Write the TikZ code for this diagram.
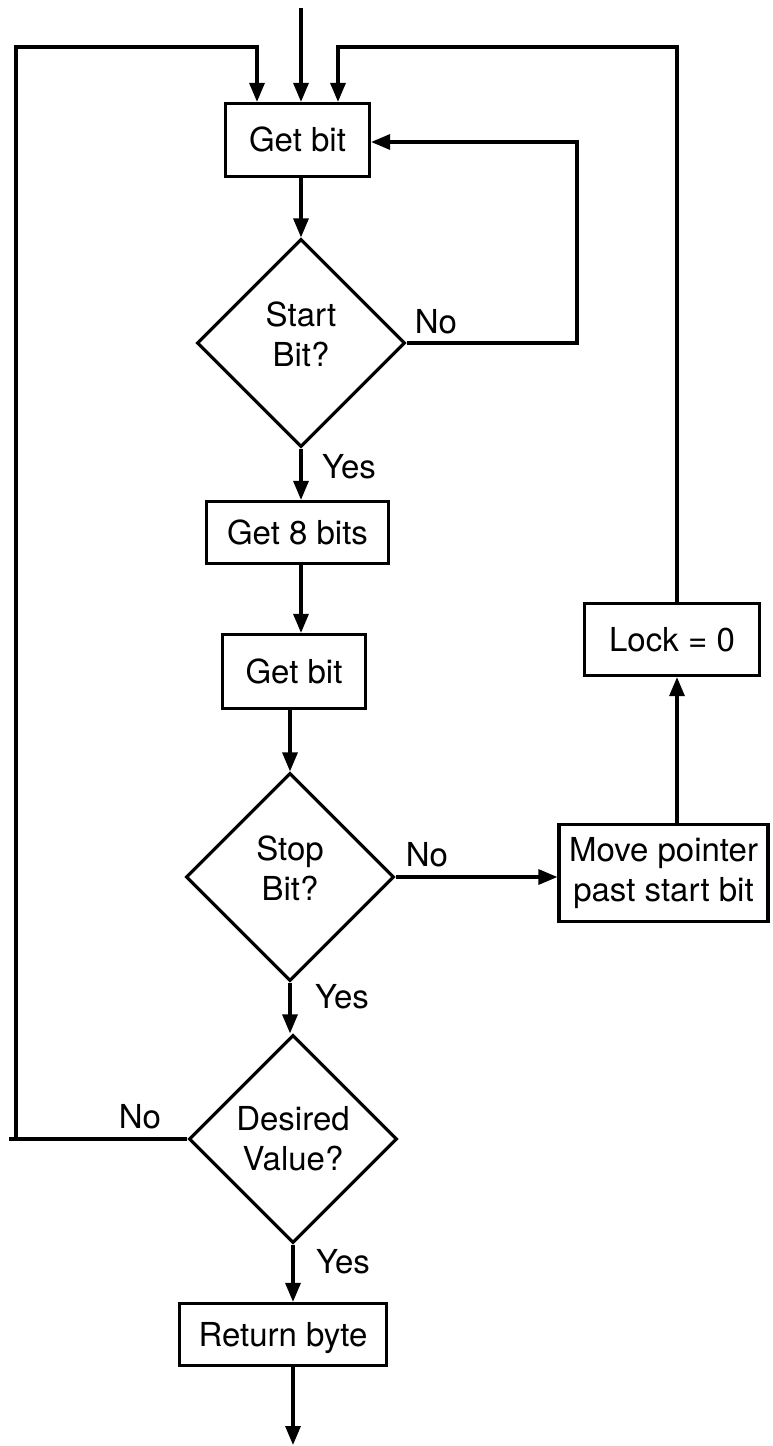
\documentclass[tikz,border=0pt]{standalone}
\usepackage{fontspec}
\setmainfont{TeX Gyre Heros}
\usetikzlibrary{shapes.geometric,arrows.meta}
\newcommand{\lowpad}{\rule[-18pt]{0pt}{18pt}}
\begin{document}
\begin{tikzpicture}[x=1pt,y=-1pt,
  every node/.style={font=\fontsize{33}{40}\selectfont, inner sep=0pt},
  proc/.style={draw, line width=3.2pt, rectangle, text height=23.7pt, text depth=0pt},
  procml/.style={draw, line width=3.2pt, rectangle, align=center},
  decision/.style={draw, line width=3.2pt, diamond, minimum width=208pt,
                   minimum height=208pt, align=center},
  flow/.style={line width=3.2pt},
  arr/.style={flow, -{Triangle[length=19pt,width=15pt]}}]
\useasboundingbox (0,0) rectangle (772,1446);

% process boxes
\node[proc, minimum width=144pt, minimum height=73pt] (get1) at (297.5,140) {Get bit};
\node[proc, minimum width=182pt, minimum height=62pt] (g8) at (297.5,532.5) {Get 8 bits};
\node[proc, minimum width=143pt, minimum height=74pt] (get2) at (294,671.5) {Get bit};
\node[proc, minimum width=207pt, minimum height=62pt] (ret) at (283,1334.5) {Return byte};
\node[proc, minimum width=175pt, minimum height=72pt] (lock) at (672,639.5) {Lock = 0};
\node[procml, minimum width=209pt, minimum height=97pt] (move) at (663.5,873) {Move pointer\\past start bit\rule[-8pt]{0pt}{8pt}};

% decisions
\node[decision] (d1) at (301,343) {Start\\Bit?\lowpad};
\node[decision] (d2) at (290,877) {Stop\\Bit?\lowpad};
\node[decision] (d3) at (293,1139) {Desired\\Value?};

% branch labels
\node (no1) at (436,322) {No};
\node (yes1) at (349,467) {Yes};
\node (no2) at (427,855) {No};
\node (yes2) at (342,997) {Yes};
\node (no3) at (140,1117) {No};
\node (yes3) at (343,1262) {Yes};

% loop corners and free ends
\coordinate (entry) at (301,8);
\coordinate (ltop) at (16,47);
\coordinate (lbot) at (16,1139);
\coordinate (lstub) at (9,1139);
\coordinate (rtop) at (677,47);
\coordinate (rloop) at (577,142);
\coordinate (exit) at (293,1445);

% connectors
\draw[arr] (entry) -- (entry |- get1.north);
\draw[flow] (d3.west) -- (lstub);
\draw[arr] (lbot) -- (ltop) -| ([xshift=-40.5pt]get1.north);
\draw[arr] (lock.north -| rtop) -- (rtop) -| ([xshift=40.5pt]get1.north);
\draw[arr] (d1.north |- get1.south) -- (d1.north);
\draw[arr] (d1.east) -| (rloop) -- (get1.east |- rloop);
\draw[arr] (d1.south) -- (d1.south |- g8.north);
\draw[arr] (d1.south |- g8.south) -- (d1.south |- get2.north);
\draw[arr] (d2.north |- get2.south) -- (d2.north);
\draw[arr] (d2.east) -- (move.west |- d2.east);
\draw[arr] (move.north -| rtop) -- (lock.south -| rtop);
\draw[arr] (d2.south) -- (d2.south |- d3.north);
\draw[arr] (d3.south) -- (d3.south |- ret.north);
\draw[arr] (ret.south -| d3.south) -- (exit);
\end{tikzpicture}
\end{document}
